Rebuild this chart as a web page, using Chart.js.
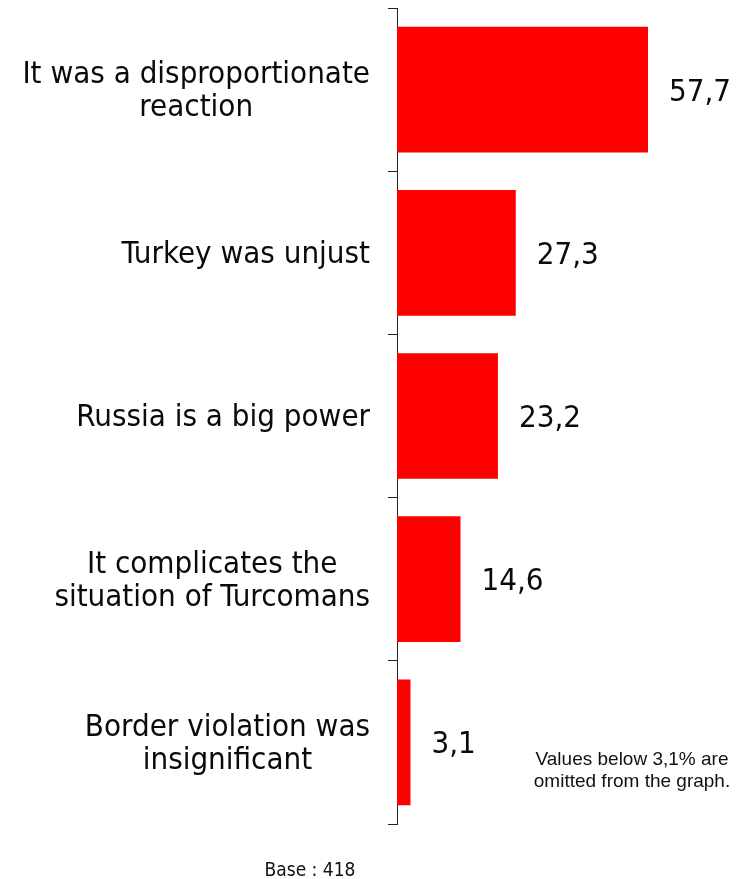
<!DOCTYPE html>
<html>
<head>
<meta charset="utf-8">
<script src="https://cdn.jsdelivr.net/npm/chart.js@4.4.0/dist/chart.umd.min.js"></script>
<style>
  html, body { margin: 0; padding: 0; background: #fff; }
  #wrap { position: relative; width: 745px; height: 879px; }
</style>
</head>
<body>
<div id="wrap"><canvas id="chart" width="745" height="879"></canvas></div>
<script>
// categories (one entry per bar, split into display lines)
const categories = [
  ['It was a disproportionate', 'reaction'],
  ['Turkey was unjust'],
  ['Russia is a big power'],
  ['It complicates the', 'situation of Turcomans'],
  ['Border violation was', 'insignificant']
]
const values = [57.7, 27.3, 23.2, 14.6, 3.1]
const valueLabels = ['57,7', '27,3', '23,2', '14,6', '3,1']
const footnote = ['Values below 3,1% are', 'omitted from the graph.']
const baseText = 'Base : 418'

const labelFont = '31px "DejaVu Sans Condensed", "DejaVu Sans", sans-serif'

// draws the category labels, value labels and the notes
const textPlugin = {
  id: 'textPlugin',
  afterDraw(chart) {
    const ctx = chart.ctx
    const y = chart.scales.y
    const x = chart.scales.x
    ctx.save()
    ctx.fillStyle = '#0a0a0a'
    ctx.font = labelFont
    ctx.textBaseline = 'middle'
    const lineH = 33
    const right = 370
    categories.forEach((lines, i) => {
      const cy = y.getPixelForValue(i) + 2
      const w = Math.max(...lines.map(l => ctx.measureText(l).width))
      const cx = right - w / 2
      ctx.textAlign = 'center'
      lines.forEach((l, k) => {
        const ly = cy + (k - (lines.length - 1) / 2) * lineH
        ctx.fillText(l, cx, ly)
      })
      // value label
      ctx.textAlign = 'left'
      ctx.fillText(valueLabels[i], x.getPixelForValue(values[i]) + 21, cy + 1)
    })

    ctx.font = '19px "Liberation Sans", Arial, sans-serif'
    ctx.textAlign = 'center'
    ctx.fillStyle = '#111'
    ctx.fillText(footnote[0], 632, 760)
    ctx.fillText(footnote[1], 632, 782)

    ctx.font = '19px "DejaVu Sans Condensed", "DejaVu Sans", sans-serif'
    ctx.fillText(baseText, 310, 871)
    ctx.restore()
  }
}

new Chart(document.getElementById('chart'), {
  type: 'bar',
  data: {
    labels: categories.map(c => c.join(' ')),
    datasets: [{
      data: values,
      backgroundColor: '#ff0000',
      borderWidth: 0,
      barPercentage: 0.77,
      categoryPercentage: 1
    }]
  },
  options: {
    indexAxis: 'y',
    responsive: false,
    animation: false,
    layout: { padding: { top: 8, bottom: 55, left: 0, right: 0 } },
    plugins: {
      legend: { display: false },
      tooltip: { enabled: false }
    },
    scales: {
      x: {
        display: false,
        min: 0,
        max: 80
      },
      y: {
        afterFit: (s) => { s.width = 397 },
        ticks: { display: false },
        grid: {
          offset: true,
          drawOnChartArea: false,
          drawTicks: true,
          tickLength: 9,
          color: '#222',
          lineWidth: 1
        },
        border: { display: true, color: '#222', width: 1 }
      }
    }
  },
  plugins: [textPlugin]
})
</script>
</body>
</html>
